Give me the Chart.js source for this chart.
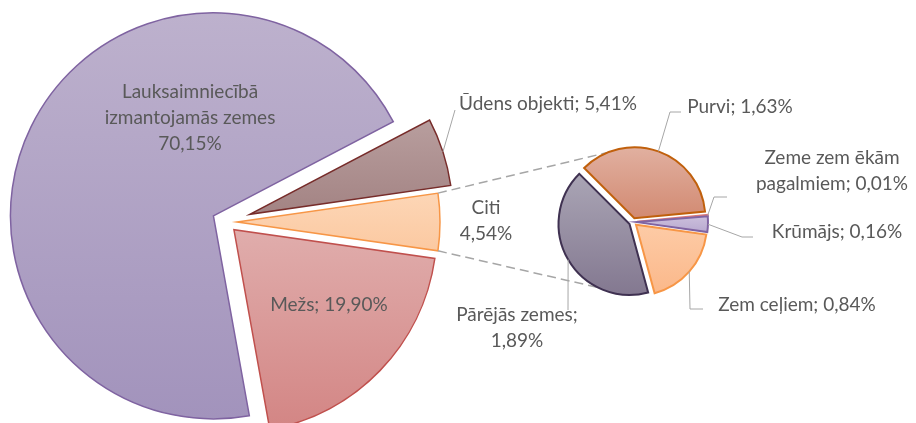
<!DOCTYPE html>
<html>
<head>
<meta charset="utf-8">
<script src="https://cdn.jsdelivr.net/npm/chart.js@4.4.1/dist/chart.umd.min.js"></script>
<style>
  html, body { margin: 0; padding: 0; background: #fff; }
  #wrap { position: relative; width: 916px; height: 423px; overflow: hidden; }
  #wrap canvas { position: absolute; left: 0; top: 0; }
</style>
</head>
<body>
<div id="wrap">
  <canvas id="mainPie" width="916" height="423"></canvas>
  <canvas id="subPie" width="916" height="423"></canvas>
</div>
<script>
// main pie, clockwise starting right after "Citi"
const mainLabels = ["Mežs", "Lauksaimniecībā\nizmantojamās zemes", "Ūdens objekti", "Citi"];
const mainValues = [19.90, 70.15, 5.41, 4.54];
const mainSeps = ["; ", "\n", "; ", "\n"];

// secondary pie = breakdown of "Citi"
const subLabels = ["Purvi", "Zeme zem ēkām\npagalmiem", "Krūmājs", "Zem ceļiem", "Pārējās zemes"];
const subValues = [1.63, 0.01, 0.16, 0.84, 1.89];
const subSeps = ["; ", "; ", "; ", "; ", ";\n"];

const W = 916, H = 423;
const FONT = "19px Lato";
const TEXT_COLOR = "#595959";
const LINE_COLOR = "#a6a6a6";
const LINE_H = 26;

const MAIN = { cx: 226, cy: 222, r: 203 };
const SUB = { cx: 633, cy: 222, r: 71 };

const mainFills = [["#e0adac", "#d38584"], ["#bdb1cd", "#a293bc"], ["#b89e9e", "#a38383"], ["#fdd6b6", "#fbc9a1"]];
const mainBorders = ["#c0504d", "#7f63a1", "#772c2a", "#f79646"];
const mainExplode = [11, 14, 25, 11];
const mainLayout = [
  { x: 329, y: 305 },
  { x: 190, y: 118 },
  { x: 548, y: 104, leader: [[455, 110]] },
  { x: 486, y: 221 },
];

const subFills = [["#e1b0a0", "#d28a72"], ["#e8a8a8", "#d98888"], ["#cbbfdc", "#b9aad0"], ["#fdcba6", "#fbb88a"], ["#aaa5b5", "#837890"]];
const subBorders = ["#c0600c", "#d9787a", "#8064a2", "#f79646", "#3f3151"];
const subExplode = [4, 4, 4, 4, 4];
const subLayout = [
  { x: 740, y: 107, leader: [[670, 112], [681, 112]] },
  { x: 832, y: 171, leader: [[714, 197], [727, 197]] },
  { x: 837, y: 232, leader: [[742, 237], [753, 237]] },
  { x: 797, y: 305, leader: [[690, 309], [703, 309]] },
  { x: 517, y: 328, leader: [[568, 310]] },
];

const pct = (v) => v.toFixed(2).replace(".", ",") + "%";

const padFor = (p) => ({
  left: Math.max(2 * p.cx - W, 0),
  right: Math.max(W - 2 * p.cx, 0),
  top: Math.max(2 * p.cy - H, 0),
  bottom: Math.max(H - 2 * p.cy, 0),
});

const yRange = (cy, r, a0, a1) => {
  const ys = [cy, cy + r * Math.sin(a0), cy + r * Math.sin(a1)];
  [-Math.PI / 2, Math.PI / 2].forEach((a) => {
    let t = a;
    while (t < a0) t += 2 * Math.PI;
    if (t <= a1) ys.push(cy + r * Math.sin(t));
  });
  return [Math.min(...ys), Math.max(...ys)];
};

// pulls each slice out along its middle angle, fills it with a vertical gradient
const explodePlugin = {
  id: "explode",
  afterDatasetUpdate(chart, args, opts) {
    const ctx = chart.ctx;
    args.meta.data.forEach((arc, i) => {
      const mid = (arc.startAngle + arc.endAngle) / 2;
      const d = opts.dist[i] || 0;
      arc.x += Math.cos(mid) * d;
      arc.y += Math.sin(mid) * d;
      const [y0, y1] = yRange(arc.y, arc.outerRadius, arc.startAngle, arc.endAngle);
      const g = ctx.createLinearGradient(0, y0, 0, y1);
      g.addColorStop(0, opts.fills[i][0]);
      g.addColorStop(1, opts.fills[i][1]);
      arc.options = Object.assign({}, arc.options, { backgroundColor: g });
    });
  },
};

const drawLabels = (chart, names, values, seps, layout) => {
  const ctx = chart.ctx;
  const arcs = chart.getDatasetMeta(0).data;
  ctx.save();
  ctx.font = FONT;
  ctx.fillStyle = TEXT_COLOR;
  ctx.textAlign = "center";
  ctx.textBaseline = "middle";
  ctx.strokeStyle = LINE_COLOR;
  ctx.lineWidth = 1;
  arcs.forEach((arc, i) => {
    const L = layout[i];
    if (L.leader) {
      const mid = (arc.startAngle + arc.endAngle) / 2;
      ctx.beginPath();
      ctx.moveTo(arc.x + Math.cos(mid) * arc.outerRadius, arc.y + Math.sin(mid) * arc.outerRadius);
      L.leader.forEach(([x, y]) => ctx.lineTo(x, y));
      ctx.stroke();
    }
    const lines = (names[i] + seps[i] + pct(values[i])).split("\n");
    const y0 = L.y - ((lines.length - 1) * LINE_H) / 2;
    lines.forEach((t, k) => ctx.fillText(t, L.x, y0 + k * LINE_H));
  });
  ctx.restore();
};

const baseOptions = (p) => ({
  responsive: false,
  animation: false,
  events: [],
  radius: p.r,
  layout: { padding: padFor(p) },
});

const citiShare = mainValues[3] / mainValues.reduce((a, b) => a + b, 0);

const mainChart = new Chart(document.getElementById("mainPie"), {
  type: "pie",
  data: {
    labels: mainLabels,
    datasets: [{
      data: mainValues,
      borderColor: mainBorders,
      borderWidth: 1.5,
      borderJoinStyle: "miter",
    }],
  },
  options: {
    ...baseOptions(MAIN),
    rotation: 90 + citiShare * 180,
    plugins: {
      legend: { display: false },
      tooltip: { enabled: false },
      explode: { dist: mainExplode, fills: mainFills },
    },
  },
  plugins: [
    explodePlugin,
    {
      id: "mainLabels",
      afterDatasetsDraw(chart) {
        drawLabels(chart, mainLabels, mainValues, mainSeps, mainLayout);
      },
    },
  ],
});

new Chart(document.getElementById("subPie"), {
  type: "pie",
  data: {
    labels: subLabels,
    datasets: [{
      data: subValues,
      borderColor: subBorders,
      borderWidth: 2,
      borderJoinStyle: "miter",
    }],
  },
  options: {
    ...baseOptions(SUB),
    rotation: -45,
    plugins: {
      legend: { display: false },
      tooltip: { enabled: false },
      explode: { dist: subExplode, fills: subFills },
    },
  },
  plugins: [
    explodePlugin,
    {
      id: "connectors",
      beforeDatasetsDraw(chart) {
        // dashed lines from the "Citi" slice to the secondary pie
        const citi = mainChart.getDatasetMeta(0).data[3];
        const arcs = chart.getDatasetMeta(0).data;
        const ends = [[citi.startAngle, arcs[0], -112], [citi.endAngle, arcs[4], 117]];
        const ctx = chart.ctx;
        ctx.save();
        ctx.strokeStyle = LINE_COLOR;
        ctx.lineWidth = 1.5;
        ctx.setLineDash([9, 5]);
        ends.forEach(([a, arc, deg]) => {
          const b = (deg * Math.PI) / 180;
          ctx.beginPath();
          ctx.moveTo(citi.x + Math.cos(a) * citi.outerRadius, citi.y + Math.sin(a) * citi.outerRadius);
          ctx.lineTo(arc.x + Math.cos(b) * arc.outerRadius, arc.y + Math.sin(b) * arc.outerRadius);
          ctx.stroke();
        });
        ctx.restore();
      },
      afterDatasetsDraw(chart) {
        drawLabels(chart, subLabels, subValues, subSeps, subLayout);
      },
    },
  ],
});
</script>
</body>
</html>
